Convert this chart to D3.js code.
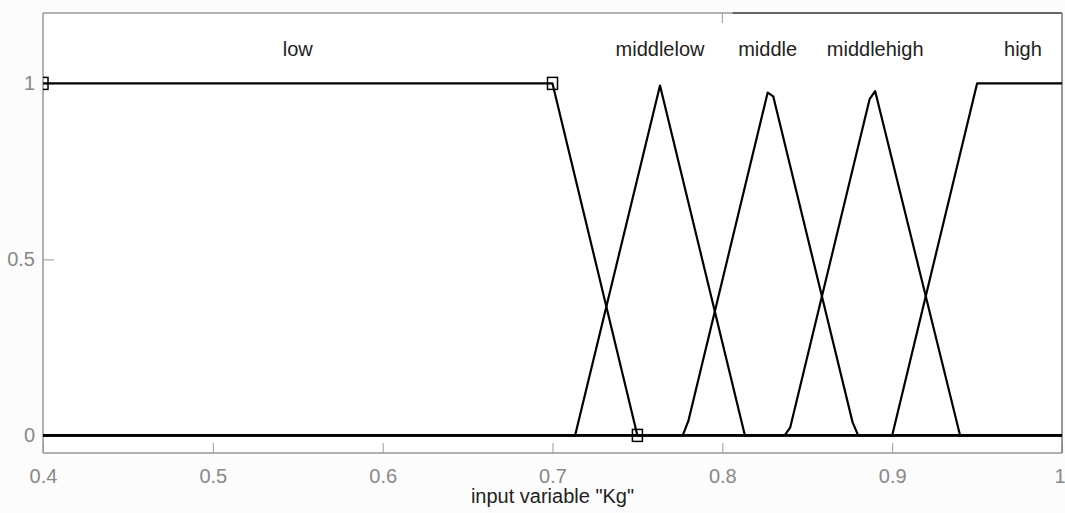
<!DOCTYPE html>
<html><head><meta charset="utf-8">
<script src="https://cdn.jsdelivr.net/npm/d3@7"></script>
<style>
html,body{margin:0;padding:0;background:#fcfcfc;}
svg{display:block;font-family:"Liberation Sans",Arial,sans-serif;}
</style></head><body>
<svg id="chart" width="1065" height="513"></svg>
<script>
const xDomain = [0.4, 1];
const yDomain = [-0.05, 1.2];
const xTicks = [0.4, 0.5, 0.6, 0.7, 0.8, 0.9, 1];
const xTickLabels = ["0.4", "0.5", "0.6", "0.7", "0.8", "0.9", "1"];
const yTicks = [0, 0.5, 1];
const yTickLabels = ["0", "0.5", "1"];
const mfNames = ["low", "middlelow", "middle", "middlehigh", "high"];
const lowPts = [[0.4, 1], [0.7, 1], [0.75, 0], [1, 0]];
const middlelowPts = [[0.4, 0], [0.7133, 0], [0.7633, 0.994], [0.8133, 0], [1, 0]];
const middlePts = [[0.4, 0], [0.7767, 0], [0.78, 0.041], [0.8267, 0.974], [0.83, 0.963], [0.8767, 0.037], [0.88, 0], [1, 0]];
const middlehighPts = [[0.4, 0], [0.8367, 0], [0.84, 0.023], [0.8867, 0.955], [0.89, 0.978], [0.94, 0], [1, 0]];
const highPts = [[0.4, 0], [0.9, 0], [0.95, 1], [1, 1]];
const labelX = [0.55, 0.7633, 0.8267, 0.89, 0.977];
const markerPts = [[0.4, 1], [0.7, 1], [0.75, 0]];
const xLabel = 'input variable "Kg"';

const L = 43, R = 1062, T = 13, B = 453;
const x = d3.scaleLinear().domain(xDomain).range([L, R]);
const y = d3.scaleLinear().domain(yDomain).range([B, T]);
const svg = d3.select("#chart");

svg.append("defs").append("clipPath").attr("id", "clip")
  .append("rect").attr("x", L).attr("y", T).attr("width", R - L).attr("height", B - T);

svg.append("rect").attr("x", L).attr("y", T).attr("width", R - L).attr("height", B - T).attr("fill", "#ffffff");

// bottom ticks (inside)
const bottomAxis = d3.axisBottom(x).tickValues(xTicks).tickSizeInner(-10).tickSizeOuter(0).tickFormat((d, i) => xTickLabels[i]).tickPadding(16);
const gx = svg.append("g").attr("transform", `translate(0,${B})`).call(bottomAxis);
gx.select(".domain").remove();
gx.selectAll(".tick line").attr("stroke", "#999");
gx.selectAll(".tick text").attr("fill", "#888").attr("font-size", 20).attr("font-family", "Liberation Sans, Arial, sans-serif")
  .attr("text-anchor", d => d === 1 ? "end" : "middle").attr("dx", d => d === 1 ? 3 : 0);

const leftAxis = d3.axisLeft(y).tickValues(yTicks).tickSizeInner(-11).tickSizeOuter(0).tickFormat((d, i) => yTickLabels[i]).tickPadding(8);
const gy = svg.append("g").attr("transform", `translate(${L},0)`).call(leftAxis);
gy.select(".domain").remove();
gy.selectAll(".tick line").attr("stroke", "#999");
gy.selectAll(".tick text").attr("fill", "#888").attr("font-size", 20).attr("font-family", "Liberation Sans, Arial, sans-serif");

// top tick at 0.8
svg.append("line").attr("x1", x(0.8)).attr("x2", x(0.8)).attr("y1", T).attr("y2", T + 10).attr("stroke", "#999");

// box
svg.append("line").attr("x1", L).attr("x2", L).attr("y1", T).attr("y2", B).attr("stroke", "#999").attr("stroke-width", 1.5);
svg.append("line").attr("x1", L).attr("x2", R).attr("y1", B).attr("y2", B).attr("stroke", "#999").attr("stroke-width", 1.5);
svg.append("line").attr("x1", L).attr("x2", x(0.806)).attr("y1", T).attr("y2", T).attr("stroke", "#999").attr("stroke-width", 1.5);
svg.append("line").attr("x1", x(0.806)).attr("x2", R).attr("y1", T).attr("y2", T).attr("stroke", "#333").attr("stroke-width", 1.5);
svg.append("line").attr("x1", R).attr("x2", R).attr("y1", T).attr("y2", B).attr("stroke", "#777").attr("stroke-width", 1.5);

const line = d3.line().x(d => x(d[0])).y(d => y(d[1]));
const plot = svg.append("g").attr("clip-path", "url(#clip)");
[lowPts, middlelowPts, middlePts, middlehighPts, highPts].forEach(pts => {
  plot.append("path").attr("d", line(pts)).attr("fill", "none").attr("stroke", "#000").attr("stroke-width", 2.2).attr("stroke-linejoin", "round");
});

plot.selectAll("rect.mk").data(markerPts).enter().append("rect").attr("class", "mk")
  .attr("x", d => x(d[0]) - 5).attr("y", d => y(d[1]) - 6).attr("width", 10).attr("height", 12)
  .attr("fill", "none").attr("stroke", "#000").attr("stroke-width", 1.5);

svg.selectAll("text.mf").data(mfNames).enter().append("text").attr("class", "mf")
  .attr("x", (d, i) => x(labelX[i])).attr("y", 56).attr("text-anchor", "middle")
  .attr("font-size", 20).attr("fill", "#222").text(d => d);

svg.append("text").attr("x", (L + R) / 2).attr("y", 503).attr("text-anchor", "middle")
  .attr("font-size", 20).attr("fill", "#222").text(xLabel);
</script>
</body></html>
